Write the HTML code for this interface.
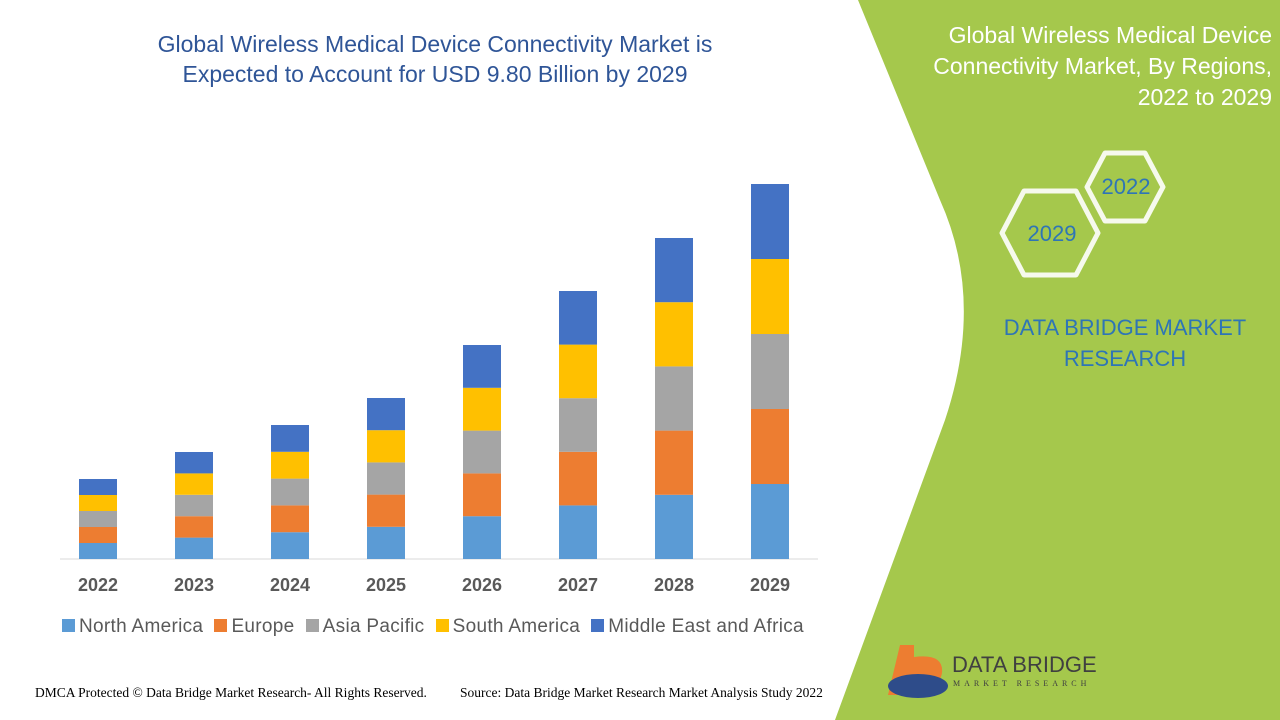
<!DOCTYPE html>
<html><head><meta charset="utf-8"><style>
body{margin:0;width:1280px;height:720px;overflow:hidden;background:#fff;font-family:"Liberation Sans",sans-serif;}
.t{position:absolute;}
.lg{display:inline-block;width:13px;height:13px;margin-right:4px}
</style></head><body>
<svg width="1280" height="720" style="position:absolute;left:0;top:0">
<path d="M858,0 L1280,0 L1280,720 L835,720 L945,420 Q985,300 940,200 Z" fill="#a5c84c"/>
<g fill="none" stroke="#fff" stroke-width="5" stroke-linejoin="round" opacity="0.9">
<polygon points="1002,233 1024,191 1076,191 1098,233 1076,275 1024,275"/>
<polygon points="1087,187 1105,153 1145,153 1163,187 1145,221 1105,221"/>
</g>
<text x="1126" y="194" font-family="Liberation Sans" font-size="22" fill="#2e75b6" text-anchor="middle">2022</text>
<text x="1052" y="241" font-family="Liberation Sans" font-size="22" fill="#2e75b6" text-anchor="middle">2029</text>
<line x1="60" y1="559" x2="818" y2="559" stroke="#d9d9d9"/>
<g id="bars"></g>
<path d="M900,645 h14 v12 q30,-4 28,16 q-4,22 -40,22 h-14 z" fill="#ed7d31"/>
<ellipse cx="918" cy="686" rx="30" ry="12" fill="#2e4c8a"/>
<text x="952" y="672" font-family="Liberation Sans" font-size="22" fill="#404040">DATA BRIDGE</text>
<text x="953" y="686" font-family="Liberation Serif" font-size="8" fill="#404040" letter-spacing="4">MARKET RESEARCH</text>
</svg>
<div class="t" style="left:100px;top:29px;width:670px;text-align:center;font-size:23px;color:#2f5597;line-height:30px">Global Wireless Medical Device Connectivity Market is<br>Expected to Account for USD 9.80 Billion by 2029</div>
<div class="t" style="left:860px;top:20px;width:412px;text-align:right;font-size:23px;color:#fff;line-height:31px">Global Wireless Medical Device<br>Connectivity Market, By Regions,<br>2022 to 2029</div>
<div class="t" style="left:990px;top:312px;width:270px;text-align:center;font-size:22px;color:#2e75b6;line-height:31px">DATA BRIDGE MARKET<br>RESEARCH</div>
<div class="t" style="left:35px;top:685px;font-family:'Liberation Serif',serif;font-size:13.5px;color:#000">DMCA Protected © Data Bridge Market Research- All Rights Reserved.</div>
<div class="t" style="left:460px;top:685px;font-family:'Liberation Serif',serif;font-size:13.5px;color:#000">Source: Data Bridge Market Research Market Analysis Study 2022</div>
<div id="lab"></div>
<div class="t" style="left:62px;top:616px;font-size:19px;color:#595959;white-space:nowrap;letter-spacing:0.3px">
<span class="lg" style="background:#5b9bd5"></span>North America&nbsp;
<span class="lg" style="background:#ed7d31"></span>Europe&nbsp;
<span class="lg" style="background:#a5a5a5"></span>Asia Pacific&nbsp;
<span class="lg" style="background:#ffc000"></span>South America&nbsp;
<span class="lg" style="background:#4472c4"></span>Middle East and Africa</div>
<script>
var tops=[479,452,425,398,345,291,238,184],cols=["#5b9bd5","#ed7d31","#a5a5a5","#ffc000","#4472c4"];
var g=document.getElementById("bars"),h="",l="";
for(var i=0;i<8;i++){var cx=98+96*i,s=(559-tops[i])/5;
for(var k=0;k<5;k++){h+='<rect x="'+(cx-19)+'" y="'+(559-s*(k+1))+'" width="38" height="'+s+'" fill="'+cols[k]+'"/>';}
l+='<div class="t" style="left:'+(cx-30)+'px;top:575px;width:60px;text-align:center;font-size:18px;font-weight:bold;color:#595959">'+(2022+i)+'</div>';}
g.innerHTML=h;document.getElementById("lab").innerHTML=l;
</script>
</body></html>
